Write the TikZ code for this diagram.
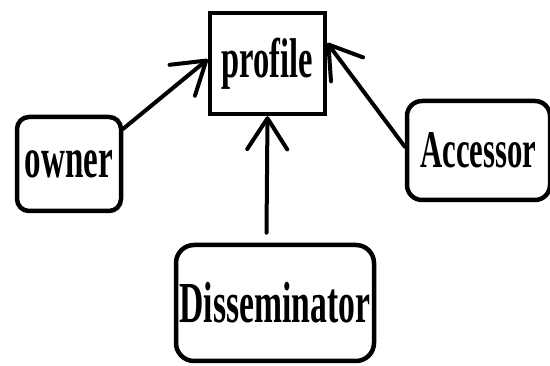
\documentclass[tikz,border=0pt]{standalone}
\usepackage{fontspec}
\usepackage{graphicx}
\setmainfont{Liberation Serif}
\usetikzlibrary{arrows.meta,calc}

\tikzset{
    role/.style={draw, line width=4.5pt, rounded corners=#1, inner sep=0pt, align=center},
    flow/.style={line width=4pt, line cap=round, -{Straight Barb[length=31pt,width=40pt,round]}}
}
\newcommand{\rolename}[2]{\fontsize{#1}{#1}\selectfont\scalebox{0.58}[1]{\bfseries #2}}

\begin{document}
\begin{tikzpicture}[x=1pt,y=1pt,yscale=-1]
    \useasboundingbox (0,0) rectangle (550,366);

    % boxes
    \node [role=0pt, minimum width=115pt, minimum height=101pt] (profile) at (267.5,63.5) {\rolename{56}{profile}};
    \node [role=12pt, minimum width=104pt, minimum height=94pt] (owner) at (69,164) {\rolename{57}{owner}};
    \node [role=15pt, minimum width=143pt, minimum height=99pt] (acc) at (478.5,150.5) {\rolename{53}{Accessor}};
    \node [role=18pt, minimum width=198pt, minimum height=116pt] (dis) at (275,303) {\rolename{58}{Disseminator}};

    % arrows into profile
    \draw [flow] (owner.33) -- (profile.176);
    \draw [flow] (acc.177) -- (profile.19);
    \draw [flow] ($(profile.south |- dis.north)+(-1,-10)$) -- (profile.south);

\end{tikzpicture}
\end{document}
